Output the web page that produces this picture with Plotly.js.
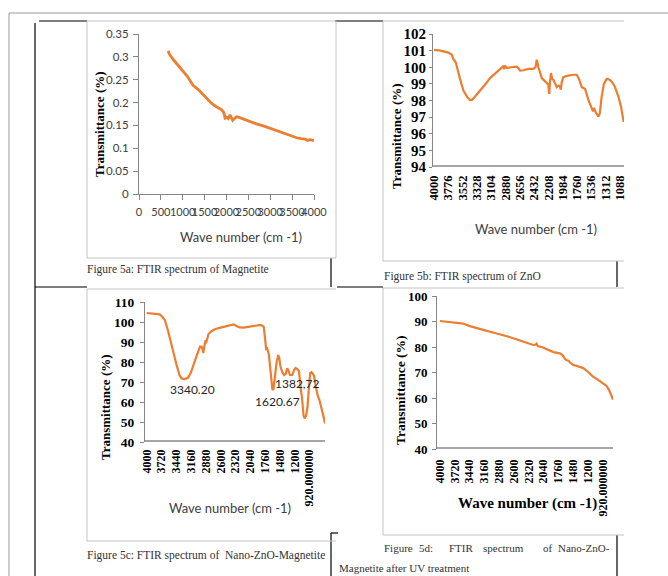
<!DOCTYPE html>
<html>
<head>
<meta charset="utf-8">
<script src="https://cdn.plot.ly/plotly-3.0.1.min.js"></script>
<style>html,body{margin:0;padding:0;background:#fff}#chart{width:668px;height:576px}</style>
</head>
<body>
<div id="chart"></div>
<script>
// ---------- DATA ----------
// Figure 5a: Magnetite
const waveA = [663,700,800,900,1013,1100,1241,1350,1470,1560,1661,1750,1890,1940,1966,2000,2040,2080,2110,2141,2180,2230,2270,2350,2461,2600,2700,2842,2900,3000,3100,3223,3350,3450,3604,3700,3800,3850,3900,4000];
const transA = [0.313,0.305,0.292,0.281,0.269,0.258,0.237,0.229,0.217,0.207,0.198,0.192,0.184,0.178,0.166,0.168,0.165,0.173,0.168,0.161,0.165,0.169,0.168,0.165,0.161,0.157,0.153,0.149,0.147,0.143,0.140,0.136,0.131,0.127,0.123,0.121,0.120,0.117,0.119,0.117];

// Figure 5b: ZnO
const waveB = [4000,3900,3776,3720,3698,3660,3593,3540,3480,3436,3400,3331,3250,3180,3123,3050,2980,2940,2920,2900,2888,2860,2800,2705,2680,2653,2600,2520,2445,2410,2392,2375,2366,2340,2313,2260,2210,2200,2194,2185,2167,2150,2131,2100,2078,2050,2027,2016,2000,1975,1900,1818,1765,1730,1700,1687,1660,1635,1580,1530,1510,1494,1470,1427,1405,1374,1340,1296,1250,1218,1170,1114,1070,1030];
const transB = [101.04,101.0,100.88,100.75,100.5,100.3,99.3,98.6,98.2,98.03,98.05,98.35,98.75,99.05,99.35,99.6,99.8,99.95,100.05,99.9,100.1,99.95,100.0,100.03,99.95,99.8,99.82,99.9,99.9,100.0,100.45,100.2,100.0,99.7,99.35,99.15,98.95,98.5,98.4,99.1,99.65,99.3,99.25,99.0,98.8,98.9,98.85,98.65,99.1,99.4,99.5,99.55,99.55,99.3,98.9,98.8,98.75,98.7,98.0,97.45,97.35,97.55,97.3,97.03,97.2,98.25,99.0,99.3,99.25,99.13,98.85,98.25,97.6,96.7];

// Figure 5c: Nano-ZnO-Magnetite
const waveC = [4000,3900,3800,3752,3700,3657,3600,3562,3500,3434,3380,3339,3280,3213,3160,3118,3050,2990,2960,2935,2929,2914,2890,2870,2860,2830,2768,2700,2600,2450,2356,2300,2240,2166,2100,2000,1900,1847,1800,1784,1760,1740,1720,1689,1650,1620,1600,1580,1540,1510,1490,1470,1435,1400,1371,1340,1320,1290,1244,1210,1181,1150,1118,1090,1060,1030,1009,985,958,930,905,880,850,831,800,767,730,704,670,640,622];
const transC = [104.5,104.3,104.1,103.8,102.5,101,96,91.8,85,78.5,73.5,71.8,71.5,72.2,75,78.5,83.5,87.7,87.7,85.5,84.5,87,90.2,90,91.5,94,95.5,96.5,97.2,98,98.8,98,97.3,97.2,97.5,97.6,98.2,98.5,98,97.5,92,86.5,86.8,84,74,66,66.5,72,80,83.5,82,78,75,73.5,74,76.8,76,73.5,73.5,76,77,76.5,75.5,68,62,53,51.8,53,57,67,74.5,75,74,73,68,63.5,61,58.3,54,50.5,49.3];
const peakLabelsC = ["3340.20","1620.67","1382,72"];

// Figure 5d: Nano-ZnO-Magnetite after UV treatment
const waveD = [4000,3900,3800,3700,3560,3450,3300,3181,3000,2803,2700,2600,2425,2300,2236,2190,2173,2150,2100,2060,2047,2000,1921,1850,1732,1680,1640,1606,1560,1543,1500,1480,1400,1291,1200,1103,1000,914,850,801,770,745,728];
const transD = [90.2,90.0,89.8,89.5,89.2,88.3,87.3,86.7,85.7,84.7,84.0,83.3,82.2,81.3,80.8,80.9,81.3,80.4,80.2,80.0,79.8,79.3,78.5,78.0,77.5,76.8,75.5,74.9,74.5,74.0,73.3,73.0,72.5,71.8,70.3,68.4,67.0,65.8,64.8,63.2,62,60.5,59.3];

// tick labels
const ticksB = [4000,3776,3552,3328,3104,2880,2656,2432,2208,1984,1760,1536,1312,1088];
const ticksCD = [4000,3720,3440,3160,2880,2600,2320,2040,1760,1480,1200,920];
const tickTextCD = ["4000","3720","3440","3160","2880","2600","2320","2040","1760","1480","1200","920.000000"];

const captions = {
  a: "Figure 5a: FTIR spectrum of Magnetite",
  b: "Figure 5b: FTIR spectrum of ZnO",
  c: "Figure 5c: FTIR spectrum of  Nano-ZnO-Magnetite",
  d1: ["Figure","5d:","FTIR","spectrum","of","Nano-ZnO-"],
  d2: "Magnetite after UV treatment"
};
const yTitle = "Transmittance (%)";
const xTitle = "Wave number (cm -1)";

// ---------- LAYOUT HELPERS ----------
const W = 668, H = 576;
const fx = p => p / W;
const fy = p => 1 - p / H;
const ORANGE = "#ED7D31";
const SANS = "Lato, 'Open Sans', sans-serif";
const SERIF = "'Liberation Serif', 'Times New Roman', serif";

function line(x0, y0, x1, y1, color, width) {
  return {type: "line", xref: "paper", yref: "paper", x0: fx(x0), y0: fy(y0), x1: fx(x1), y1: fy(y1),
          line: {color: color, width: width}, layer: "below"};
}
function txt(text, x, y, opts) {
  return Object.assign({text: text, xref: "paper", yref: "paper", x: fx(x), y: fy(y), showarrow: false,
    xanchor: "center", yanchor: "middle", font: {family: SANS, size: 13, color: "#404040"}}, opts || {});
}
const capFont = {family: SERIF, size: 11.5, color: "#333"};
const capFontD = {family: SERIF, size: 11, color: "#333"};

const traces = [
  {x: waveA, y: transA, xaxis: "x", yaxis: "y", type: "scatter", mode: "lines", line: {color: ORANGE, width: 2.8}},
  {x: waveB, y: transB, xaxis: "x2", yaxis: "y2", type: "scatter", mode: "lines", line: {color: ORANGE, width: 2.2}},
  {x: waveC, y: transC, xaxis: "x3", yaxis: "y3", type: "scatter", mode: "lines", line: {color: ORANGE, width: 2.2}},
  {x: waveD, y: transD, xaxis: "x4", yaxis: "y4", type: "scatter", mode: "lines", line: {color: ORANGE, width: 2.2}}
];

const serifBold = (s) => ({family: SERIF, size: s, color: "#000", weight: 700});

const layout = {
  width: W, height: H, margin: {l: 0, r: 0, t: 0, b: 0},
  paper_bgcolor: "#fff", plot_bgcolor: "rgba(0,0,0,0)", showlegend: false,
  xaxis: {domain: [fx(139), fx(314)], anchor: "y", range: [0, 4000], dtick: 500, tickangle: 0,
    showline: true, linecolor: "#868686", linewidth: 1, ticks: "outside", ticklen: 5, tickcolor: "#868686",
    showgrid: false, zeroline: false, tickfont: {family: SANS, size: 11, color: "#404040"}, ticklabelstandoff: 3, fixedrange: true},
  yaxis: {domain: [fy(194), fy(34)], anchor: "x", range: [0, 0.35], dtick: 0.05,
    showline: true, linecolor: "#868686", linewidth: 1, ticks: "outside", ticklen: 5, tickcolor: "#868686",
    showgrid: false, zeroline: false, tickfont: {family: SANS, size: 11.5, color: "#404040"}, ticklabelstandoff: 2, fixedrange: true},

  xaxis2: {domain: [fx(433), fx(624)], anchor: "y2", range: [4016, 1025], tickvals: ticksB, tickangle: -90,
    showline: false, ticks: "", showgrid: false, zeroline: false, tickfont: serifBold(12.5), ticklabelstandoff: 5, fixedrange: true},
  yaxis2: {domain: [fy(167), fy(34)], anchor: "x2", range: [94, 102], dtick: 1,
    showline: true, linecolor: "#868686", linewidth: 1, ticks: "outside", ticklen: 3, tickcolor: "#868686",
    showgrid: false, zeroline: false, tickfont: serifBold(15), fixedrange: true},

  xaxis3: {domain: [fx(145), fx(325)], anchor: "y3", range: [4032, 625], tickvals: ticksCD, ticktext: tickTextCD, tickangle: -90,
    showline: false, ticks: "", showgrid: false, zeroline: false, tickfont: serifBold(12), ticklabelstandoff: 4, fixedrange: true},
  yaxis3: {domain: [fy(442), fy(302)], anchor: "x3", range: [40, 110], dtick: 10,
    showline: true, linecolor: "#868686", linewidth: 1, ticks: "outside", ticklen: 4, tickcolor: "#868686",
    showgrid: false, zeroline: false, tickfont: serifBold(13.5), ticklabelstandoff: 3, fixedrange: true},

  xaxis4: {domain: [fx(437), fx(613)], anchor: "y4", range: [4057, 725], tickvals: ticksCD, ticktext: tickTextCD, tickangle: -90,
    showline: false, ticks: "", showgrid: false, zeroline: false, tickfont: serifBold(12), ticklabelstandoff: 7, fixedrange: true},
  yaxis4: {domain: [fy(449), fy(296)], anchor: "x4", range: [40, 100], dtick: 10,
    showline: true, linecolor: "#868686", linewidth: 1, ticks: "outside", ticklen: 4, tickcolor: "#868686",
    showgrid: false, zeroline: false, tickfont: serifBold(13), ticklabelstandoff: 2, fixedrange: true},

  shapes: [
    // page / table lines
    line(9, 13, 668, 13, "#9a9a9a", 1),
    line(9, 13, 9, 576, "#9a9a9a", 1),
    line(39, 21, 87, 21, "#000", 1.2),
    line(35, 23, 35, 576, "#000", 1.2),
    line(335, 21, 383, 21, "#000", 1.2),
    line(331, 258, 331, 287, "#000", 1.2),
    line(35, 287, 87, 287, "#000", 1.2),
    line(337, 287, 383, 287, "#000", 1.2),
    line(617, 261, 617, 287, "#000", 1.2),
    line(331, 533, 331, 576, "#000", 1.2),
    line(331, 533, 338, 533, "#000", 1.2),
    line(617, 535, 617, 576, "#000", 1.2),
    // chart boxes
    line(87, 21, 336, 21, "#c4c4c4", 1), line(87, 21, 87, 258, "#c4c4c4", 1),
    line(87, 258, 336, 258, "#c4c4c4", 1), line(336, 21, 336, 258, "#c4c4c4", 1),
    line(383, 21, 624, 21, "#c4c4c4", 1), line(383, 21, 383, 261, "#c4c4c4", 1),
    line(383, 261, 624, 261, "#c4c4c4", 1),
    line(87, 289, 336, 289, "#c4c4c4", 1), line(87, 289, 87, 541, "#c4c4c4", 1),
    line(87, 541, 336, 541, "#c4c4c4", 1),
    line(383, 288, 624, 288, "#c4c4c4", 1), line(383, 288, 383, 535, "#c4c4c4", 1),
    line(383, 535, 624, 535, "#c4c4c4", 1),
    // thick category-axis bars
    {type: "line", xref: "x2 domain", yref: "y2", x0: 0, x1: 1, y0: 94, y1: 94, line: {color: "#a6a6a6", width: 4}},
    {type: "line", xref: "x3 domain", yref: "y3", x0: 0, x1: 1, y0: 40, y1: 40, line: {color: "#a6a6a6", width: 4}},
    {type: "line", xref: "x4 domain", yref: "y4", x0: 0, x1: 1, y0: 40, y1: 40, line: {color: "#a6a6a6", width: 4}}
  ],

  annotations: [
    // axis titles
    txt(yTitle, 99, 124, {textangle: -90, font: serifBold(13)}),
    txt(xTitle, 241, 237),
    txt(yTitle, 396, 136, {textangle: -90, font: serifBold(13)}),
    txt(xTitle, 536, 229),
    txt(yTitle, 105, 407, {textangle: -90, font: serifBold(13)}),
    txt(xTitle, 230, 508),
    txt(yTitle, 400, 390, {textangle: -90, font: serifBold(13.5)}),
    txt(xTitle, 527, 503, {font: serifBold(15)}),
    // peak labels in 5c
    txt(peakLabelsC[0], 192, 389, {font: {family: SANS, size: 12, color: "#262626"}}),
    txt(peakLabelsC[1], 277, 401, {font: {family: SANS, size: 12, color: "#262626"}}),
    txt(peakLabelsC[2], 297, 383, {font: {family: SANS, size: 12, color: "#262626"}}),
    // captions
    txt(captions.a, 85, 269, {xanchor: "left", font: capFont}),
    txt(captions.b, 382, 276, {xanchor: "left", font: capFont}),
    txt(captions.c, 85, 555, {xanchor: "left", font: capFont}),
    txt(captions.d1[0], 382, 548, {xanchor: "left", font: capFontD}),
    txt(captions.d1[1], 417, 548, {xanchor: "left", font: capFontD}),
    txt(captions.d1[2], 447, 548, {xanchor: "left", font: capFontD}),
    txt(captions.d1[3], 481, 548, {xanchor: "left", font: capFontD}),
    txt(captions.d1[4], 541, 548, {xanchor: "left", font: capFontD}),
    txt(captions.d1[5], 556, 548, {xanchor: "left", font: capFontD}),
    txt(captions.d2, 337, 568, {xanchor: "left", font: capFontD})
  ]
};

Plotly.newPlot("chart", traces, layout, {staticPlot: true, displayModeBar: false});
</script>
</body>
</html>
